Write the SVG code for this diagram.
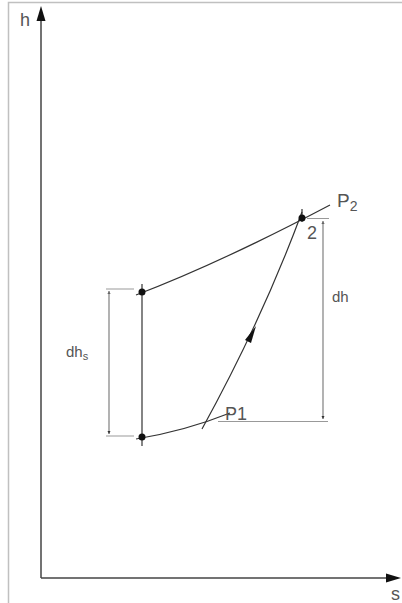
<svg xmlns="http://www.w3.org/2000/svg" width="402" height="603" viewBox="0 0 402 603">
<style>
.frame{stroke:#c0c0c0;stroke-width:1.5;fill:none}
.axis{stroke:#444;stroke-width:1.5;fill:none}
.curve{stroke:#333;stroke-width:1.2;fill:none}
.dim{stroke:#999;stroke-width:1;fill:none}
.lbl{font-family:"Liberation Sans",Arial,sans-serif;fill:#555}
.dot{fill:#111}
</style>
<defs>
<marker id="dimtip" markerWidth="4" markerHeight="4" refX="3" refY="2" orient="auto" markerUnits="userSpaceOnUse">
<path d="M0,0.5 L3,2 L0,3.5 Z" fill="#333"/>
</marker>
</defs>
<g id="frame">
<path class="frame" d="M402,2.5 L8.5,2.5 L8.5,603"/>
</g>
<g id="axes">
<line class="axis" x1="41" y1="578" x2="41" y2="20"/>
<path d="M41,6 L45.5,21 L36.5,21 Z" fill="#111"/>
<line class="axis" x1="41" y1="578" x2="388" y2="578"/>
<path d="M401,578 L386,573.5 L386,582.5 Z" fill="#111"/>
<text class="lbl" x="20" y="26" font-size="18">h</text>
<text class="lbl" x="391" y="600" font-size="18">s</text>
</g>
<g id="connectors">
<path class="curve" d="M136,295 Q220,263 330,205"/>
<path class="curve" d="M136,439 Q185,431 230,413"/>
<line class="curve" x1="142" y1="284" x2="142" y2="446" stroke-width="1.4"/>
<path class="curve" d="M202,429 Q262,320 302,212"/>
<path d="M256,326 L251,343 L245,340 Z" fill="#111"/>
<line class="curve" x1="302" y1="209" x2="302" y2="222"/>
</g>
<g id="dimensions">
<line class="dim" x1="106" y1="289" x2="134" y2="289"/>
<line class="dim" x1="106" y1="436" x2="134" y2="436"/>
<line class="dim" x1="109" y1="434" x2="109" y2="291" marker-end="url(#dimtip)"/>
<line class="dim" x1="109" y1="291" x2="109" y2="434" marker-end="url(#dimtip)"/>
<line class="dim" x1="307" y1="218.5" x2="329" y2="218.5"/>
<line class="dim" x1="218" y1="421.5" x2="328" y2="421.5" stroke="#bbb" stroke-width="1.5"/>
<line class="dim" x1="323" y1="419" x2="323" y2="221" marker-end="url(#dimtip)"/>
<line class="dim" x1="323" y1="221" x2="323" y2="419" marker-end="url(#dimtip)"/>
</g>
<g id="point-1s">
<circle class="dot" cx="142" cy="292" r="3.5"/>
</g>
<g id="point-1">
<circle class="dot" cx="142" cy="437" r="3.5"/>
</g>
<g id="point-2">
<circle class="dot" cx="302" cy="218" r="3.5"/>
<text class="lbl" x="307" y="239" font-size="18">2</text>
</g>
<g id="label-P2">
<text class="lbl" x="337" y="207" font-size="19">P<tspan font-size="14" dy="4">2</tspan></text>
</g>
<g id="label-P1">
<text class="lbl" x="225" y="420" font-size="18">P1</text>
</g>
<g id="label-dh">
<text class="lbl" x="332" y="302" font-size="15" fill="#222">dh</text>
</g>
<g id="label-dhs">
<text class="lbl" x="66" y="357" font-size="15" fill="#222">dh<tspan font-size="11" dy="3">s</tspan></text>
</g>
</svg>
